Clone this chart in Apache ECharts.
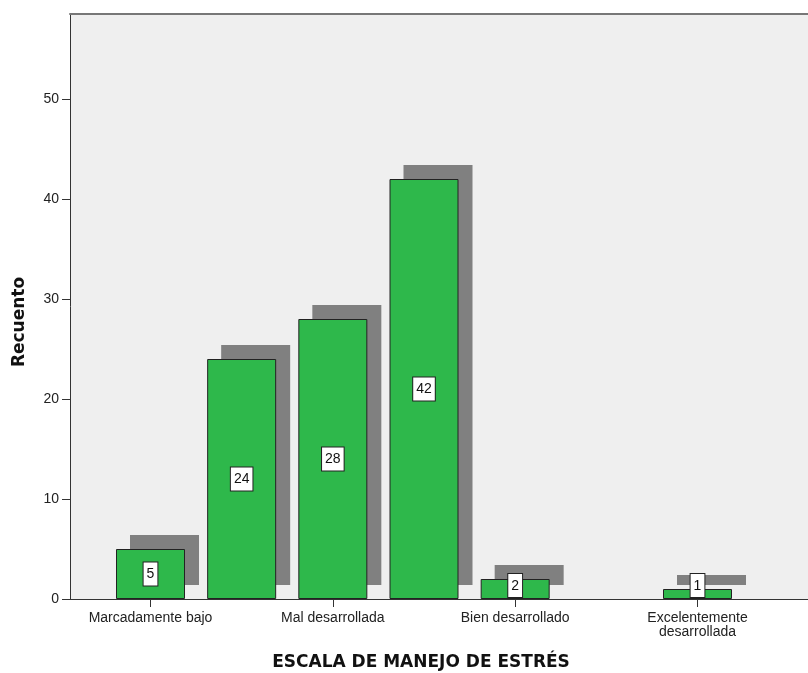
<!DOCTYPE html>
<html>
<head>
<meta charset="utf-8">
<script src="https://cdn.jsdelivr.net/npm/echarts@6/dist/echarts.min.js"></script>
<style>
  html, body { margin: 0; padding: 0; background: #ffffff; }
  #chart { width: 808px; height: 673px; }
</style>
</head>
<body>
<div id="chart"></div>
<script>
// Category positions along the scale (1..7) and their counts
const positions = [1, 2, 3, 4, 5, 6, 7];
const counts = [5, 24, 28, 42, 2, null, 1];
// Labelled categories on the horizontal axis
const tickPositions = [1, 3, 5, 7];
const tickLabels = ['Marcadamente bajo', 'Mal desarrollada', 'Bien desarrollado', 'Excelentemente\ndesarrollada'];
// Vertical axis ticks
const yTicks = [0, 10, 20, 30, 40, 50];

const FONT = "'Liberation Sans', Arial, sans-serif";
const TITLE_FONT = "bold 17px 'DejaVu Sans', sans-serif";
const BAR_W = 69;
const SHADOW_DX = 14, SHADOW_DY = -14;

const pairs = positions.map((p, i) => [p, counts[i]]);

const barData = pairs.map(([p, v]) => {
  if (v === null) return [p, null];
  const item = { value: [p, v] };
  // short bars: keep the value box sitting on the baseline
  if (v < 3) item.label = { position: 'insideBottom', distance: 2 };
  return item;
});

const chart = echarts.init(document.getElementById('chart'));
chart.setOption({
  animation: false,
  backgroundColor: '#ffffff',
  grid: {
    left: 70, top: 14, right: 0, bottom: 74,
    show: true, backgroundColor: '#efefef', borderWidth: 0
  },
  xAxis: [{
    type: 'value', min: 0.117, max: 8.212,
    axisLine: { show: true, lineStyle: { color: '#333', width: 1 } },
    axisTick: { show: true, customValues: tickPositions, length: 8, lineStyle: { color: '#333' } },
    axisLabel: {
      customValues: tickPositions,
      formatter: v => tickLabels[tickPositions.indexOf(Math.round(v))] || '',
      color: '#222', fontFamily: FONT, fontSize: 14, margin: 12, lineHeight: 14
    },
    splitLine: { show: false }
  }, {
    // top frame line of the plot area
    type: 'value', position: 'top', min: 0.117, max: 8.212,
    axisLine: { show: true, lineStyle: { color: '#777', width: 2 } },
    axisTick: { show: false }, axisLabel: { show: false }, splitLine: { show: false }
  }],
  yAxis: {
    type: 'value', min: 0, max: 58.5,
    axisLine: { show: true, lineStyle: { color: '#333', width: 1 } },
    axisTick: { show: true, customValues: yTicks, length: 8, lineStyle: { color: '#333' } },
    axisLabel: { customValues: yTicks, color: '#222', fontFamily: FONT, fontSize: 14, margin: 11 },
    splitLine: { show: false }
  },
  series: [{
    // offset grey block behind each bar
    type: 'custom',
    z: 1,
    data: pairs.filter(d => d[1] !== null),
    renderItem: (params, api) => {
      const top = api.coord([api.value(0), api.value(1)]);
      const base = api.coord([api.value(0), 0]);
      return {
        type: 'rect',
        shape: { x: top[0] - BAR_W / 2 + SHADOW_DX, y: top[1] + SHADOW_DY, width: BAR_W, height: base[1] - top[1] },
        style: { fill: '#808080' }
      };
    }
  }, {
    type: 'bar',
    z: 2,
    barWidth: BAR_W,
    data: barData,
    itemStyle: { color: '#2eb84b', borderColor: '#222', borderWidth: 1 },
    label: {
      show: true,
      position: 'inside',
      formatter: p => String(p.value[1]),
      color: '#111',
      fontFamily: FONT,
      fontSize: 14,
      backgroundColor: '#ffffff',
      borderColor: '#222',
      borderWidth: 1,
      padding: [5, 3, 4, 3]
    }
  }],
  graphic: [
    {
      type: 'text', x: 20, y: 322, rotation: Math.PI / 2,
      style: { text: 'Recuento', font: TITLE_FONT, fill: '#111', align: 'center', verticalAlign: 'middle' }
    },
    {
      type: 'text', x: 421, y: 663,
      style: { text: 'ESCALA DE MANEJO DE ESTRÉS', font: TITLE_FONT, fill: '#111', align: 'center', verticalAlign: 'middle' }
    }
  ]
});
</script>
</body>
</html>
